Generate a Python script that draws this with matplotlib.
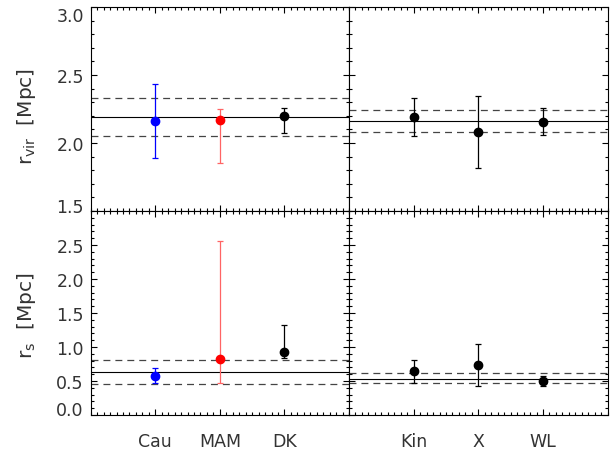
import numpy as np
import matplotlib
matplotlib.use("Agg")
import matplotlib.pyplot as plt
from matplotlib.ticker import FixedLocator, MultipleLocator, NullFormatter
from matplotlib.transforms import ScaledTranslation

# methods on each side of the plot
left_names = ["Cau", "MAM", "DK"]
right_names = ["Kin", "X", "WL"]
left_colors = ["blue", "red", "black"]
left_bar_colors = ["blue", "#ff6464", "black"]

# virial radius [Mpc]: value, upper end, lower end
rvir_left = [2.164, 2.171, 2.196]
rvir_left_hi = [2.436, 2.250, 2.257]
rvir_left_lo = [1.890, 1.851, 2.074]
rvir_right = [2.191, 2.078, 2.154]
rvir_right_hi = [2.329, 2.346, 2.255]
rvir_right_lo = [2.051, 1.814, 2.056]

# scale radius [Mpc]
rs_left = [0.578, 0.819, 0.931]
rs_left_hi = [0.691, 2.554, 1.324]
rs_left_lo = [0.471, 0.475, 0.833]
rs_right = [0.642, 0.740, 0.505]
rs_right_hi = [0.809, 1.044, 0.578]
rs_right_lo = [0.471, 0.431, 0.426]

# combined estimate and its 1-sigma band (mean, upper, lower)
rvir_left_band = [2.189, 2.329, 2.051]
rvir_right_band = [2.159, 2.240, 2.083]
rs_left_band = [0.637, 0.809, 0.461]
rs_right_band = [0.534, 0.618, 0.471]

plt.rcParams["font.family"] = ["DejaVu Sans"]
plt.rcParams["font.size"] = 12.5
plt.rcParams["text.color"] = "#333333"
plt.rcParams["lines.scale_dashes"] = False
plt.rcParams["mathtext.fontset"] = "dejavusans"


def setup_axes(ax, ylim, ymajor, xlabels, show_ylabels, show_xlabels):
    ax.set_xlim(0, 4)
    ax.set_ylim(*ylim)
    ax.xaxis.set_major_locator(FixedLocator([1, 2, 3]))
    ax.xaxis.set_minor_locator(MultipleLocator(0.1))
    ax.yaxis.set_major_locator(FixedLocator(ymajor))
    ax.yaxis.set_minor_locator(MultipleLocator(0.1))
    ax.tick_params(which="both", direction="in", top=True, right=True,
                   width=0.8, colors="black", labelcolor="#333333")
    ax.tick_params(which="major", length=4.5)
    ax.tick_params(which="minor", length=2.5)
    ax.tick_params(axis="x", pad=12)
    ax.tick_params(axis="y", pad=5)
    for sp in ax.spines.values():
        sp.set_linewidth(0.8)
    if show_xlabels:
        ax.set_xticklabels(xlabels)
    else:
        ax.xaxis.set_major_formatter(NullFormatter())
    if show_ylabels:
        ax.set_yticklabels(["%.1f" % v for v in ymajor])
    else:
        ax.yaxis.set_major_formatter(NullFormatter())


def draw_points(ax, vals, hi, lo, colors, bar_colors):
    xs = np.arange(1, len(vals) + 1)
    for x, v, h, l, c, bc in zip(xs, vals, hi, lo, colors, bar_colors):
        ax.errorbar([x], [v], yerr=[[v - l], [h - v]], fmt="none",
                    ecolor=bc, elinewidth=0.9, capsize=2.5, capthick=0.9, zorder=3)
        ax.plot([x], [v], "o", color=c, markersize=6, zorder=4)


def draw_band(ax, band):
    mean, hi, lo = band
    ax.axhline(mean, color="black", lw=0.8, zorder=2)
    for y in (hi, lo):
        ax.axhline(y, color="#444444", lw=0.9, ls=(0, (5, 3.6)), zorder=2)


def shift_label(ax, index, dy_px):
    fig = ax.figure
    lab = ax.get_yticklabels()[index]
    lab.set_transform(lab.get_transform() + ScaledTranslation(0, dy_px / fig.dpi, fig.dpi_scale_trans))


def main():
    fig = plt.figure(figsize=(6.15, 4.56), dpi=100)
    W, H = 615.0, 456.0
    x0, xm, x1 = 90.7, 349.0, 607.7
    ytop, ymid, ybot = 8.0, 212.0, 416.0

    ax_tl = fig.add_axes([x0 / W, 1 - ymid / H, (xm - x0) / W, (ymid - ytop) / H])
    ax_tr = fig.add_axes([xm / W, 1 - ymid / H, (x1 - xm) / W, (ymid - ytop) / H])
    ax_bl = fig.add_axes([x0 / W, 1 - ybot / H, (xm - x0) / W, (ybot - ymid) / H])
    ax_br = fig.add_axes([xm / W, 1 - ybot / H, (x1 - xm) / W, (ybot - ymid) / H])

    rvir_ticks = [1.5, 2.0, 2.5, 3.0]
    rs_ticks = [0.0, 0.5, 1.0, 1.5, 2.0, 2.5]

    setup_axes(ax_tl, (1.5, 3.0), rvir_ticks, left_names, True, False)
    setup_axes(ax_tr, (1.5, 3.0), rvir_ticks, right_names, False, False)
    setup_axes(ax_bl, (0.0, 3.0), rs_ticks, left_names, True, True)
    setup_axes(ax_br, (0.0, 3.0), rs_ticks, right_names, False, True)

    draw_band(ax_tl, rvir_left_band)
    draw_band(ax_tr, rvir_right_band)
    draw_band(ax_bl, rs_left_band)
    draw_band(ax_br, rs_right_band)

    draw_points(ax_tl, rvir_left, rvir_left_hi, rvir_left_lo, left_colors, left_bar_colors)
    draw_points(ax_tr, rvir_right, rvir_right_hi, rvir_right_lo, ["black"] * 3, ["black"] * 3)
    draw_points(ax_bl, rs_left, rs_left_hi, rs_left_lo, left_colors, left_bar_colors)
    draw_points(ax_br, rs_right, rs_right_hi, rs_right_lo, ["black"] * 3, ["black"] * 3)

    # keep the edge labels inside the panels
    shift_label(ax_tl, 0, 6)
    shift_label(ax_tl, 3, -7)
    shift_label(ax_bl, 0, 7)

    fig.text(26 / W, 1 - 116 / H, r"r$_{\rm vir}$  [Mpc]", rotation=90,
             ha="center", va="center", fontsize=14.5)
    fig.text(26 / W, 1 - 316 / H, r"r$_{\rm s}$  [Mpc]", rotation=90,
             ha="center", va="center", fontsize=14.5)

    fig.savefig("out.png", dpi=100)


if __name__ == "__main__":
    main()
